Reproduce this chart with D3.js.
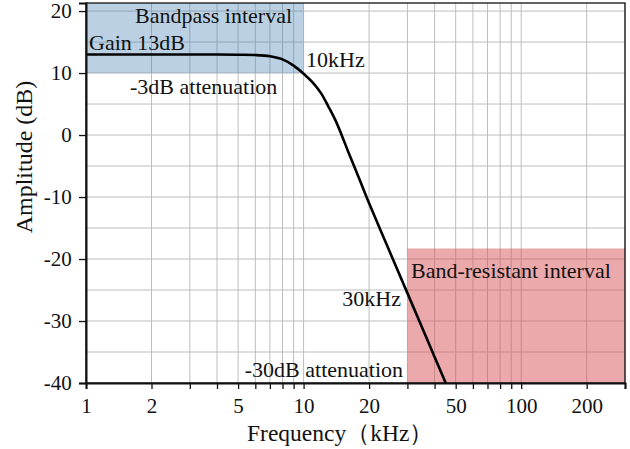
<!DOCTYPE html>
<html>
<head>
<meta charset="utf-8">
<style>
  body { margin: 0; background: #fff; }
  svg text { font-family: "Liberation Serif", "DejaVu Serif", serif; fill: #111; }
</style>
</head>
<body>
<svg id="chart" width="630" height="449"></svg>
<script src="https://d3js.org/d3.v7.min.js"></script>
<script>

// values
var freq = [1, 2, 3, 4, 5, 6, 7, 8, 9, 10, 11, 12, 13, 14, 15, 16, 18, 20, 25, 30, 35, 40, 46, 50];
var amp  = [13, 13, 13, 13, 12.95, 12.9, 12.7, 12.2, 11.2, 9.9, 8.5, 6.8, 4.6, 2.4, -0.1, -2.6, -7.0, -11.0, -19.0, -25.5, -31.0, -35.8, -40.8, -43.7];
var xTickValues = [1, 2, 5, 10, 20, 50, 100, 200];
var yTickValues = [-40, -30, -20, -10, 0, 10, 20];
var bandpass = { f0: 1, f1: 10, a0: 10 };        // up to the top
var bandstop = { f0: 30, a0: -18.3 };           // down to the bottom, to the right edge

var svg = d3.select("#chart");
var pLeft = 86, pRight = 625, pTop = 3, pBottom = 383;

var x = d3.scaleLog().domain([1, 300]).range([pLeft, pRight]);
var y = d3.scaleLinear().domain([-40, 21.3]).range([pBottom, pTop]);

// grid
var minorX = [];
[1, 10, 100].forEach(function (d) {
  for (var k = 1; k < 10; k++) if (d * k <= 300) minorX.push(d * k);
});
svg.append("g").selectAll("line").data(minorX).enter().append("line")
  .attr("x1", function (d) { return x(d); }).attr("x2", function (d) { return x(d); })
  .attr("y1", pTop).attr("y2", pBottom)
  .attr("stroke", "#bdbdbd").attr("stroke-width", 1);
svg.append("g").selectAll("line").data(d3.range(-35, 21, 5)).enter().append("line")
  .attr("x1", pLeft).attr("x2", pRight)
  .attr("y1", function (d) { return y(d); }).attr("y2", function (d) { return y(d); })
  .attr("stroke", "#bdbdbd").attr("stroke-width", 1);

// shaded intervals
svg.append("rect")
  .attr("x", x(bandpass.f0)).attr("y", pTop)
  .attr("width", x(bandpass.f1) - x(bandpass.f0)).attr("height", y(bandpass.a0) - pTop)
  .attr("fill", "rgb(70,130,180)").attr("fill-opacity", 0.37);
svg.append("rect")
  .attr("x", x(bandstop.f0)).attr("y", y(bandstop.a0))
  .attr("width", pRight - x(bandstop.f0)).attr("height", pBottom - y(bandstop.a0))
  .attr("fill", "rgb(215,75,80)").attr("fill-opacity", 0.48);

// curve
svg.append("clipPath").attr("id", "clip").append("rect")
  .attr("x", pLeft).attr("y", pTop).attr("width", pRight - pLeft).attr("height", pBottom - pTop);
var line = d3.line()
  .x(function (d, i) { return x(freq[i]); })
  .y(function (d) { return y(d); })
  .curve(d3.curveCatmullRom.alpha(0.5));
svg.append("path").datum(amp)
  .attr("clip-path", "url(#clip)")
  .attr("d", line)
  .attr("fill", "none").attr("stroke", "#000").attr("stroke-width", 2.6);

// frame
svg.append("rect").attr("x", pLeft).attr("y", pTop)
  .attr("width", pRight - pLeft).attr("height", pBottom - pTop)
  .attr("fill", "none").attr("stroke", "#111").attr("stroke-width", 1.3);

// axes
var xAxis = svg.append("g").attr("transform", "translate(0," + pBottom + ")")
  .call(d3.axisBottom(x).tickValues(minorX).tickSize(6).tickFormat(function (d) {
    return xTickValues.indexOf(d) >= 0 ? String(d) : "";
  }));
var yAxis = svg.append("g").attr("transform", "translate(" + pLeft + ",0)")
  .call(d3.axisLeft(y).tickValues(yTickValues).tickSize(7).tickFormat(function (d) { return String(d); }));
[xAxis, yAxis].forEach(function (g) {
  g.select(".domain").attr("stroke", "#111").attr("stroke-width", 2);
  g.selectAll(".tick line").attr("stroke", "#111").attr("stroke-width", 1.3);
  g.selectAll("text").attr("font-family", "Liberation Serif").attr("font-size", 21).attr("fill", "#111");
});
xAxis.selectAll("text").attr("dy", "1.0em");
yAxis.selectAll("text").attr("dx", "-0.2em");

// axis titles
svg.append("text").attr("x", 247).attr("y", 441).attr("font-size", 23.5).text("Frequency（kHz）");
svg.append("text").attr("transform", "translate(32,157) rotate(-90)")
  .attr("text-anchor", "middle").attr("font-size", 24).text("Amplitude (dB)");

// annotations
var notes = [
  { t: "Bandpass interval", x: 135, y: 23, a: "start" },
  { t: "Gain 13dB", x: 89, y: 50, a: "start" },
  { t: "10kHz", x: 306, y: 67, a: "start" },
  { t: "-3dB attenuation", x: 130, y: 94, a: "start" },
  { t: "30kHz", x: 401, y: 306, a: "end" },
  { t: "-30dB attenuation", x: 403, y: 377, a: "end" },
  { t: "Band-resistant interval", x: 411, y: 278, a: "start" }
];
svg.append("g").selectAll("text").data(notes).enter().append("text")
  .attr("x", function (d) { return d.x; }).attr("y", function (d) { return d.y; })
  .attr("text-anchor", function (d) { return d.a; })
  .attr("font-size", 22)
  .text(function (d) { return d.t; });

</script>
</body>
</html>
